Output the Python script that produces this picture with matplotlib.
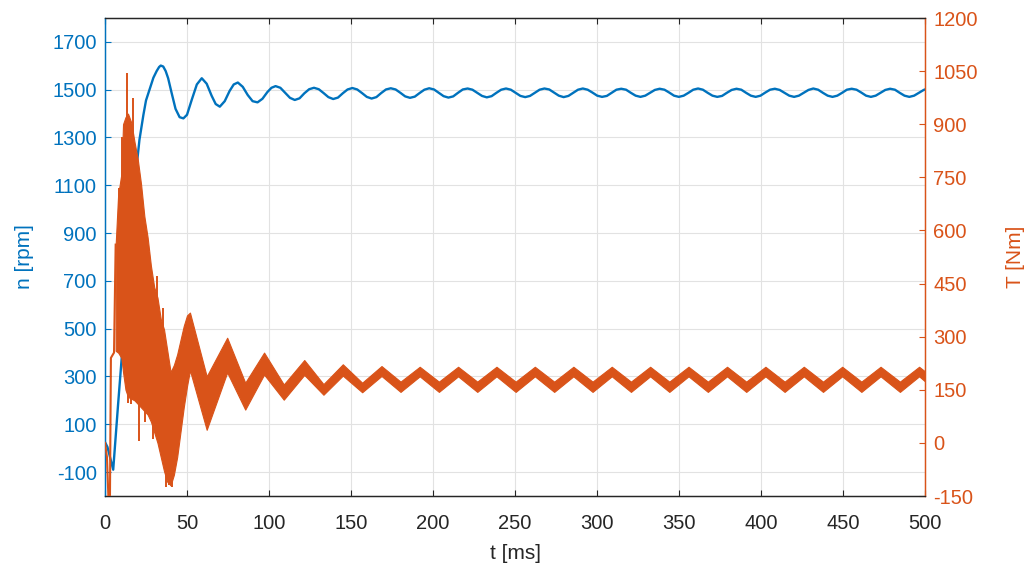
import numpy as np
import matplotlib
matplotlib.use("Agg")
import matplotlib.pyplot as plt

plt.rcParams['font.family'] = ['Liberation Sans', 'DejaVu Sans']
plt.rcParams['axes.unicode_minus'] = False

BLUE = "#0072BD"
ORANGE = "#D95319"
GRAY = "#262626"

# ---------------- speed n [rpm] ----------------
speed_t_start = [0, 1.5, 5, 8, 11, 14, 17, 19.3, 21, 23.4, 25, 27.4, 29.5, 31.5, 33, 34,
                 35.5, 37, 38.5, 40.5, 43, 45.5, 47.8, 50, 53, 56, 59, 62, 65, 67.5, 70,
                 73, 76, 78.5, 81, 84, 87, 90, 93, 96, 99, 101.5]
speed_start = [25, 5, -90, 185, 450, 720, 980, 1180, 1290, 1394, 1455, 1506, 1550, 1578,
               1595, 1601, 1597, 1578, 1548, 1490, 1420, 1385, 1380, 1395, 1460, 1522,
               1548, 1525, 1475, 1440, 1429, 1452, 1495, 1522, 1530, 1512, 1478, 1452,
               1447, 1462, 1490, 1508]
speed_steady_start_ms = 104.0
speed_period_ms = 23.42
speed_steady = [
    1515, 1508, 1487, 1466, 1457, 1464, 1485, 1502,
    1508, 1502, 1486, 1469, 1461, 1467, 1485, 1501,
    1507, 1501, 1486, 1470, 1463, 1469, 1486, 1501,
    1506, 1501, 1487, 1472, 1466, 1471, 1486, 1500,
    1506, 1501, 1487, 1473, 1467, 1472, 1487, 1501,
    1505, 1500, 1487, 1474, 1468, 1473, 1487, 1500,
    1505, 1500, 1487, 1474, 1469, 1474, 1487, 1500,
    1505, 1501, 1488, 1475, 1469, 1474, 1487, 1500,
    1505, 1500, 1488, 1475, 1470, 1474, 1487, 1500,
    1504, 1500, 1487, 1475, 1470, 1475, 1487, 1499,
    1504, 1500, 1488, 1475, 1470, 1475, 1487, 1500,
    1505, 1500, 1487, 1475, 1470, 1474, 1487, 1499,
    1504, 1500, 1487, 1475, 1470, 1475, 1488, 1500,
    1504, 1499, 1487, 1475, 1470, 1475, 1487, 1499,
    1505, 1500, 1487, 1475, 1470, 1475, 1487, 1500,
    1504, 1500, 1488, 1475, 1470, 1475, 1487, 1499,
    1504, 1500, 1487, 1475, 1470, 1475, 1487, 1499,
]
speed_end_t = 500
speed_end = 1501

# ---------------- torque T [Nm] ----------------
# initial trace before the dense band
torque_t_start = [0, 1.2, 2.2, 3.0, 3.6, 5.5, 6.5]
torque_start = [0, -40, -170, -170, 240, 255, 560]

# dense band: upper / lower envelope of the oscillating torque
torque_t = [6.5, 8, 10, 11, 12.5, 14, 16, 18, 20, 22, 24, 26, 28, 30, 32, 34, 36, 38, 40,
            42, 44, 46, 48, 50, 51.8, 62, 74.5, 85.5, 97, 109, 121.5, 133.2, 145, 156.8,
            168.6, 180.2, 191.9, 203.6, 215.3, 227.0, 238.7, 250.4, 262.1, 273.9, 285.6,
            297.3, 309.0, 320.7, 332.4, 344.1, 355.8, 367.6, 379.3, 391.0, 402.7, 414.4,
            426.1, 437.8, 449.5, 461.2, 472.9, 484.7, 496.4, 500]
torque_hi = [560, 700, 760, 900, 920, 930, 905, 850, 800, 730, 640, 580, 500, 440, 410, 350,
             320, 260, 200, 220, 250, 290, 330, 360, 368, 188, 297, 170, 255, 165, 234, 166,
             222, 170, 217, 173, 215, 173, 215, 173, 215, 173, 215, 173, 215, 173, 215, 173,
             215, 173, 215, 173, 215, 173, 215, 173, 215, 173, 215, 173, 215, 173, 215, 202]
torque_lo = [260, 255, 240, 200, 150, 130, 125, 120, 110, 100, 90, 80, 60, 30, 0, -40,
             -80, -110, -120, -90, -40, 30, 100, 160, 205, 37, 199, 94, 193, 122, 192, 136,
             190, 143, 189, 144, 188, 144, 188, 144, 188, 144, 188, 144, 188, 144, 188, 144,
             188, 144, 188, 144, 188, 144, 188, 144, 188, 144, 188, 144, 188, 144, 188, 174]

# isolated spikes sticking out of the band
spike_t = [8.8, 10.1, 13.6, 17.2, 14.2, 15.7, 20.9, 24.2, 27.0, 29.5, 31.5, 33.5, 35.5,
           37.0, 39.0, 41.0]
spike_lo = [450, 500, 700, 700, 113, 110, 4, 60, 300, 10, 300, -20, 200, -125, -120, -125]
spike_hi = [720, 865, 1044, 973, 300, 300, 200, 200, 540, 150, 470, 100, 380, 0, 0, -60]

x_ticks = [0, 50, 100, 150, 200, 250, 300, 350, 400, 450, 500]
n_ticks = [-100, 100, 300, 500, 700, 900, 1100, 1300, 1500, 1700]
T_ticks = [-150, 0, 150, 300, 450, 600, 750, 900, 1050, 1200]

# ---------------- figure ----------------
W, H = 1032, 568
fig = plt.figure(figsize=(W / 100, H / 100), dpi=100)
ax = fig.add_axes([105 / W, 1 - 496 / H, 820 / W, 478 / H])
ax2 = ax.twinx()

t_steady = speed_steady_start_ms + speed_period_ms / 8 * np.arange(len(speed_steady))
t_speed = np.concatenate([speed_t_start, t_steady, [speed_end_t]])
n_speed = np.concatenate([speed_start, speed_steady, [speed_end]])

ax.plot(t_speed, n_speed, color=BLUE, lw=1.7, solid_joinstyle='round', zorder=3)

ax2.plot(torque_t_start, torque_start, color=ORANGE, lw=1.5, zorder=3)
ax2.fill_between(torque_t, torque_lo, torque_hi, color=ORANGE, edgecolor=ORANGE,
                 lw=0.8, zorder=3)
ax2.vlines(spike_t, spike_lo, spike_hi, color=ORANGE, lw=1.4, zorder=3)

ax.set_xlim(0, 500)
ax.set_ylim(-200, 1800)
ax2.set_ylim(-150, 1200)
ax.set_xticks(x_ticks)
ax.set_yticks(n_ticks)
ax2.set_yticks(T_ticks)

ax.grid(True, color='#E2E2E2', lw=0.8)
ax.set_axisbelow(True)

fs = 14.5
ax.tick_params(axis='x', direction='in', length=4, width=0.8, colors=GRAY,
               labelsize=fs, pad=13, top=True)
ax.tick_params(axis='y', direction='in', length=4, width=0.8, colors=BLUE,
               labelsize=fs, pad=6)
ax2.tick_params(axis='y', direction='in', length=4, width=0.8, colors=ORANGE,
                labelsize=fs, pad=6)

for a in (ax, ax2):
    a.spines['bottom'].set_color(GRAY)
    a.spines['top'].set_color(GRAY)
    a.spines['left'].set_color(BLUE)
    a.spines['right'].set_color(ORANGE)
    for s in a.spines.values():
        s.set_linewidth(0.9)

ax.set_xlabel('t [ms]', fontsize=15, color=GRAY, labelpad=8)
ax.set_ylabel('n [rpm]', fontsize=15, color=BLUE, labelpad=13)
ax2.set_ylabel('T [Nm]', fontsize=15, color=ORANGE, labelpad=20)

fig.savefig('out.png', dpi=100)
